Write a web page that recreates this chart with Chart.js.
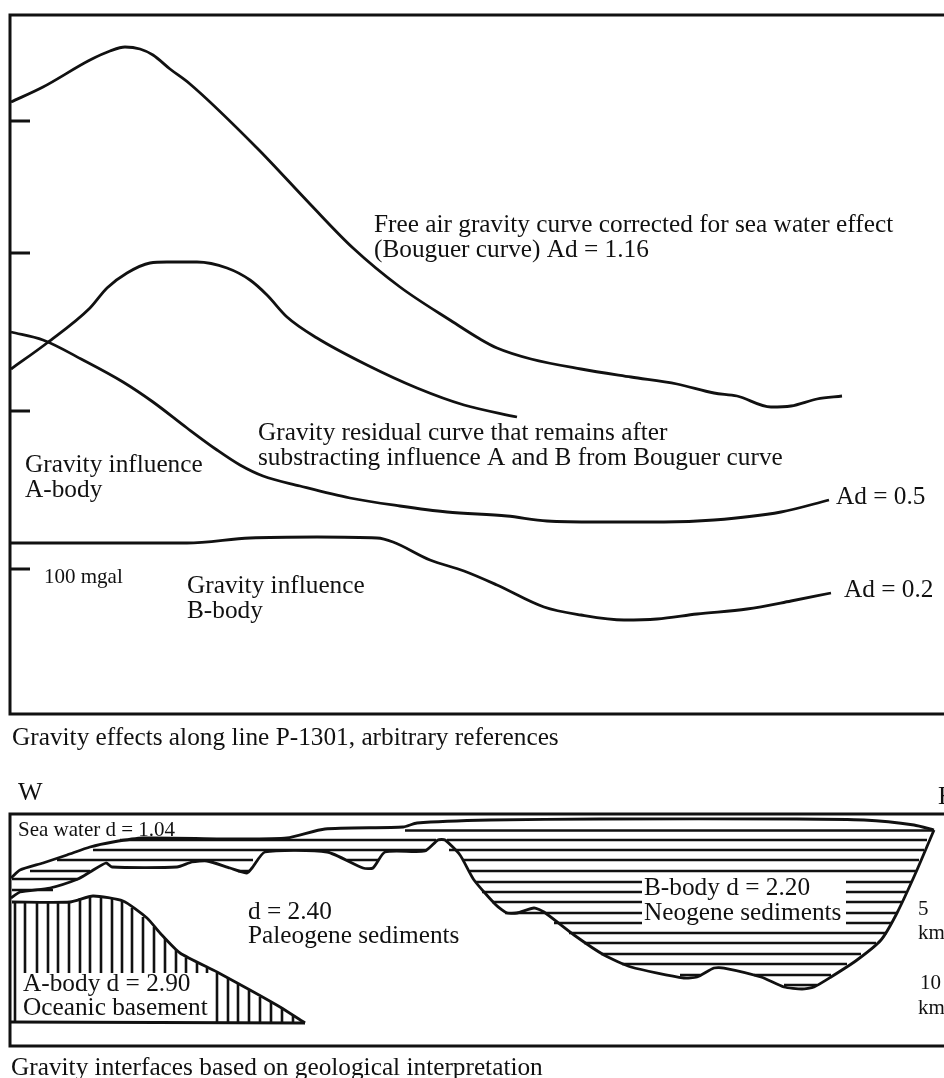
<!DOCTYPE html>
<html>
<head>
<meta charset="utf-8">
<title>Gravity effects along line P-1301</title>
<script src="https://cdn.jsdelivr.net/npm/chart.js@4"></script>
<style>
  html, body { margin: 0; padding: 0; background: #fff; overflow: hidden; }
  #wrap { width: 944px; height: 1078px; }
</style>
</head>
<body>
<div id="wrap"><canvas id="chart" width="944" height="1078"></canvas></div>
<script>
// curves of the upper panel
const bouguerX = [11, 43, 90, 110, 125, 140, 153, 170, 190, 257, 310, 353, 400, 453, 480, 497, 531, 581, 631, 677, 714, 737, 771, 791, 817, 842];
const bouguerY = [102, 87, 60, 51, 47, 49, 55, 69, 84, 148, 204, 248, 287, 322, 339, 348, 359, 369, 377, 384, 393, 396, 407, 406, 399, 396];
const residualX = [11, 47, 90, 107, 127, 150, 167, 197, 227, 250, 267, 287, 317, 367, 417, 464, 517];
const residualY = [369, 343, 308, 288, 273, 263, 262, 262, 268, 280, 295, 317, 338, 365, 388, 405, 417];
const influenceAX = [11, 43, 83, 123, 153, 187, 217, 240, 263, 300, 350, 400, 447, 507, 547, 597, 664, 714, 781, 829];
const influenceAY = [332, 340, 360, 382, 402, 428, 450, 465, 476, 486, 498, 506, 512, 516, 521, 522, 522, 520, 512, 500];
const influenceBX = [11, 187, 250, 317, 377, 393, 430, 464, 497, 544, 581, 624, 657, 697, 747, 791, 831];
const influenceBY = [543, 543, 538, 537, 538, 542, 560, 571, 585, 607, 615, 620, 619, 614, 609, 601, 593];
const mgalTicks = [121, 253, 411, 569];

// interfaces of the lower panel
const seaX = [11, 20, 43, 67, 90, 113, 143, 240, 287, 325, 403, 417, 490, 600, 797, 864, 914, 934];
const seaY = [878, 870, 863, 855, 847, 842, 838, 839, 838, 829, 827, 823, 820, 819, 819, 820, 825, 830];
const floorX = [11, 20, 50, 78, 90, 106, 112, 177, 192, 207, 230, 247, 252, 265, 327, 363, 373, 385, 425, 438, 445, 460, 474, 496, 507, 517, 534, 544, 574, 604, 631, 684, 697, 714, 724, 761, 784, 802, 814, 831, 857, 881, 897, 917, 934];
const floorY = [898, 892, 888, 879, 872, 863, 867, 867, 862, 861, 868, 873, 868, 852, 852, 868, 868, 852, 851, 840, 840, 855, 880, 905, 913, 913, 908, 912, 935, 955, 967, 978, 977, 968, 968, 977, 987, 989, 987, 977, 960, 940, 913, 870, 830];
const basementX = [12, 70, 93, 123, 147, 160, 180, 217, 250, 280, 305];
const basementY = [902, 902, 896, 901, 918, 933, 953, 972, 990, 1007, 1023];

// horizontal hatching of the B-body
const hatchRowY = [830.5, 840, 840, 850, 850, 860, 860, 860, 871, 871, 871, 879, 890, 882, 882, 892, 892, 902, 902, 913, 913, 923, 923, 933, 943, 954, 964, 975, 975, 985];
const hatchFrom = [405, 120, 447, 93, 449, 57, 347, 463, 30, 238, 470, 12, 12, 476, 846, 482, 846, 492, 846, 505, 846, 554, 846, 569, 584, 601, 622, 680, 754, 784];
const hatchTo = [932, 436, 927, 427, 924, 253, 378, 919, 90, 250, 916, 78, 53, 642, 911, 642, 906, 642, 902, 642, 897, 642, 891, 887, 876, 861, 847, 700, 831, 817];

// vertical hatching of the A-body
const stripeX = [15, 25, 37, 48, 58, 69, 80, 90, 101, 112, 122, 132, 143, 154, 165, 176, 186, 197, 207, 217, 228, 238, 249, 260, 271, 282, 293];
const stripeTop = [902, 902, 902, 902, 902, 902, 898, 896, 897, 898, 900, 908, 917, 927, 938, 950, 958, 963, 968, 973, 978, 984, 990, 997, 1002, 1009, 1016];
const stripeBottom = [1022, 973, 973, 973, 973, 973, 973, 973, 973, 973, 973, 973, 973, 973, 973, 973, 973, 973, 973, 1022, 1022, 1022, 1022, 1022, 1022, 1022, 1022];

// frames of the two panels
const frameTopX = [944, 10, 10, 944];
const frameTopY = [15, 15, 714, 714];
const frameBottomX = [944, 10, 10, 944];
const frameBottomY = [814, 814, 1046, 1046];
const baseLineX = [10, 305];
const baseLineY = [1022, 1023];

const notes = [
  "Free air gravity curve corrected for sea water effect", "(Bouguer curve) Ad = 1.16",
  "Gravity residual curve that remains after", "substracting influence A and B from Bouguer curve",
  "Gravity influence", "A-body", "Gravity influence", "B-body", "Ad = 0.5", "Ad = 0.2",
  "Gravity effects along line P-1301, arbitrary references",
  "d = 2.40", "Paleogene sediments", "A-body d = 2.90", "Oceanic basement",
  "B-body d = 2.20", "Neogene sediments",
  "Gravity interfaces based on geological interpretation"
];
const noteX = [374, 374, 258, 258, 25, 25, 187, 187, 836, 844, 12, 248, 248, 23, 23, 644, 644, 11];
const noteY = [225, 250, 433, 458, 465, 490, 586, 611, 497, 590, 738, 912, 936, 984, 1008, 888, 913, 1068];

const smallNotes = ["100 mgal", "Sea water d = 1.04", "5", "km", "10", "km"];
const smallX = [44, 18, 918, 918, 920, 918];
const smallY = [577, 830, 909, 933, 983, 1008];

const bigNotes = ["W", "E"];
const bigX = [18, 938];
const bigY = [793, 797];

const INK = "#111111";

function curve(xs, ys, width, tension) {
    return {
        data: xs.map((x, i) => ({ x: x, y: ys[i] })),
        borderColor: INK,
        borderWidth: width,
        tension: tension,
        pointRadius: 0,
        fill: false,
        showLine: true
    };
}

// upper panel curves, x always goes forward so monotone keeps them clean
function smooth(xs, ys, width) {
    const d = curve(xs, ys, width, 0);
    d.cubicInterpolationMode = "monotone";
    return d;
}

// short straight pieces with a gap between each one
function pieces(list, width) {
    const pts = [];
    list.forEach(p => {
        pts.push({ x: p[0], y: p[1] }, { x: p[2], y: p[3] }, { x: p[2], y: null });
    });
    return {
        data: pts,
        borderColor: INK,
        borderWidth: width,
        pointRadius: 0,
        fill: false,
        showLine: true,
        spanGaps: false
    };
}

// text is placed through the same scales as the curves
const textPlugin = {
    id: "notes",
    afterDatasetsDraw(chart) {
        const c = chart.ctx;
        const sx = chart.scales.x, sy = chart.scales.y;
        function put(texts, xs, ys, font) {
            c.font = font;
            c.fillStyle = INK;
            c.textAlign = "left";
            c.textBaseline = "middle";
            texts.forEach((t, i) => c.fillText(t, sx.getPixelForValue(xs[i]), sy.getPixelForValue(ys[i])));
        }
        c.save();
        put(notes, noteX, noteY, "25.3px 'Liberation Serif'");
        put(smallNotes, smallX, smallY, "21px 'Liberation Serif'");
        put(bigNotes, bigX, bigY, "26px 'Liberation Serif'");
        c.restore();
    }
};

new Chart(document.getElementById("chart"), {
    type: "scatter",
    data: {
        datasets: [
            curve(frameTopX, frameTopY, 3, 0),
            curve(frameBottomX, frameBottomY, 3, 0),
            pieces(mgalTicks.map(t => [10, t, 30, t]), 3),
            smooth(bouguerX, bouguerY, 2.8),
            smooth(residualX, residualY, 2.8),
            smooth(influenceAX, influenceAY, 2.8),
            smooth(influenceBX, influenceBY, 2.8),
            curve(seaX, seaY, 2.8, 0.2),
            curve(floorX, floorY, 2.8, 0.2),
            curve(basementX, basementY, 2.8, 0.2),
            curve(baseLineX, baseLineY, 2.8, 0),
            pieces(hatchRowY.map((y, i) => [hatchFrom[i], y, hatchTo[i], y]), 2.6),
            pieces(stripeX.map((x, i) => [x, stripeTop[i], x, stripeBottom[i]]), 2.6)
        ]
    },
    options: {
        responsive: false,
        animation: false,
        layout: { padding: 0 },
        plugins: { legend: { display: false }, tooltip: { enabled: false } },
        scales: {
            x: { type: "linear", min: 0, max: 944, display: false },
            y: { type: "linear", min: 0, max: 1078, reverse: true, display: false }
        }
    },
    plugins: [textPlugin]
});
</script>
</body>
</html>
